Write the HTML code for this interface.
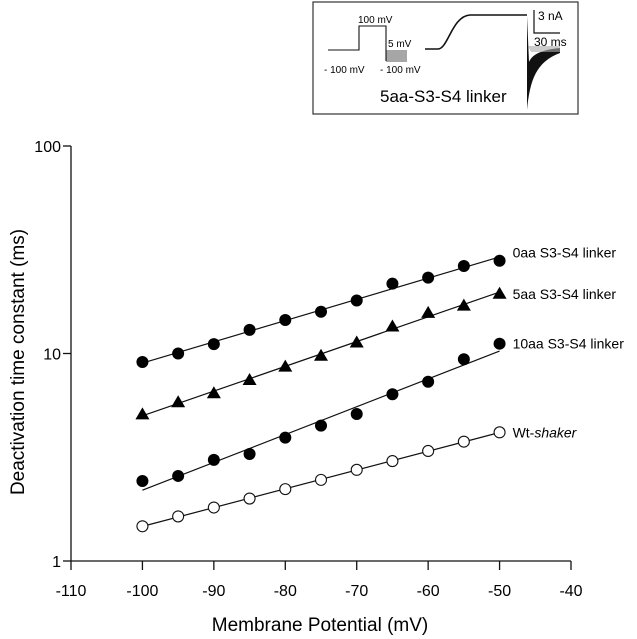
<!DOCTYPE html>
<html><head><meta charset="utf-8"><style>
html,body{margin:0;padding:0;background:#fff;}
svg{display:block;font-family:"Liberation Sans",Arial,sans-serif;}
</style></head><body>
<svg id="chart" width="637" height="639" viewBox="0 0 637 639">
  <g>
    <rect x="313" y="2" width="265" height="112" fill="#fff" stroke="#333" stroke-width="1.2"/>
    <g fill="none" stroke="#111" stroke-width="1.1">
      <polyline points="328,50 359,50 359,26 386,26 386,61"/>
      <g stroke-width="0.7">
      <line x1="386" y1="51" x2="407" y2="51"/><line x1="386" y1="53" x2="407" y2="53"/>
      <line x1="386" y1="55" x2="407" y2="55"/><line x1="386" y1="57" x2="407" y2="57"/>
      <line x1="386" y1="59" x2="407" y2="59"/><line x1="386" y1="61" x2="407" y2="61"/>
      </g>
    </g>
    <text x="358" y="23" font-size="10">100 mV</text>
    <text x="388" y="47" font-size="10">5 mV</text>
    <text x="324" y="73" font-size="10">- 100 mV</text>
    <text x="380" y="73" font-size="10">- 100 mV</text>
    <path d="M425,49 L438,49 C448,49 452,16 470,15 L527,15" fill="none" stroke="#111" stroke-width="1.6"/>
    <path d="M527,16 L527,110 C530,80 536,62 560,53 L560,48 C540,50 532,55 529,62 Z" fill="#111"/>
    <path d="M528,46 L560,46 L560,52 L531,52 Z" fill="#aaa" opacity="0.6"/>
    <polyline points="534,10 534,33 560,33" fill="none" stroke="#111" stroke-width="1.2"/>
    <text x="538" y="20" font-size="12">3 nA</text>
    <text x="534" y="46" font-size="12">30 ms</text>
    <text x="380" y="102" font-size="17">5aa-S3-S4 linker</text>
  </g>
  <g id="axes"></g>
  <g id="plot"></g>
  <text x="320" y="631" font-size="19" text-anchor="middle">Membrane Potential (mV)</text>
  <text transform="translate(24,362) rotate(-90)" font-size="19" text-anchor="middle">Deactivation time constant (ms)</text>
</svg>
<script>
const voltages = [-100,-95,-90,-85,-80,-75,-70,-65,-60,-55,-50];
const tau0aa = [9.1,10.0,11.1,13.0,14.5,15.9,18.0,21.7,23.2,26.4,28.0];
const tau5aa = [5.09,5.82,6.43,7.45,8.64,9.76,11.3,13.5,15.7,17.0,19.4];
const tau10aa = [2.43,2.57,3.07,3.28,3.93,4.49,5.11,6.36,7.31,9.38,11.15];
const tauWt = [1.47,1.64,1.81,2.0,2.22,2.46,2.75,3.03,3.39,3.76,4.17];
const xTicks = [-110,-100,-90,-80,-70,-60,-50,-40];
const yTicks = [1,10,100];
const seriesLabels = ["0aa S3-S4 linker","5aa S3-S4 linker","10aa S3-S4 linker","Wt-shaker"];

const NS="http://www.w3.org/2000/svg";
const X0=71, X1=571, XMIN=-110, XMAX=-40, YB=561, DEC=207.5;
function xs(v){return X0+(v-XMIN)*(X1-X0)/(XMAX-XMIN);}
function ys(v){return YB-DEC*Math.log10(v);}
function mk(tag,attrs,parent){const e=document.createElementNS(NS,tag);for(const k in attrs)e.setAttribute(k,attrs[k]);parent.appendChild(e);return e;}

const axes=document.getElementById('axes');
let e=mk('line',{x1:X0,y1:ys(100),x2:X0,y2:YB,stroke:'#111','stroke-width':1.3},axes);


e=mk('line',{x1:X0,y1:YB,x2:X1,y2:YB,stroke:'#111','stroke-width':1.3},axes);


xTicks.forEach(t=>{
  const l=mk('line',{x1:xs(t),y1:YB,x2:xs(t),y2:YB+9,stroke:'#111','stroke-width':1.3},axes);
  
  
  const tx=mk('text',{x:xs(t),y:YB+35,'font-size':16,'text-anchor':'middle'},axes);
  tx.textContent=t;
  
  
});
yTicks.forEach(t=>{
  const l=mk('line',{x1:X0-8,y1:ys(t),x2:X0,y2:ys(t),stroke:'#111','stroke-width':1.3},axes);
  
  
  const tx=mk('text',{x:X0-10,y:ys(t)+6,'font-size':16,'text-anchor':'end'},axes);
  tx.textContent=t;
  
  
});

const plot=document.getElementById('plot');
const all=[tau0aa,tau5aa,tau10aa,tauWt];
const markers=['filled-circle','triangle','filled-circle','open-circle'];
const names=['0aa','5aa','10aa','wt'];
all.forEach((vals,si)=>{
  const g=mk('g',{},plot);
  
  
  const n=voltages.length;let sx=0,sy=0,sxx=0,sxy=0;
  voltages.forEach((v,i)=>{const y=Math.log10(vals[i]);sx+=v;sy+=y;sxx+=v*v;sxy+=v*y;});
  const b=(n*sxy-sx*sy)/(n*sxx-sx*sx), a=(sy-b*sx)/n;
  const v0=voltages[0], v1=voltages[n-1];
  const fl=mk('line',{x1:xs(v0),y1:ys(Math.pow(10,a+b*v0)),x2:xs(v1),y2:ys(Math.pow(10,a+b*v1)),stroke:'#111','stroke-width':1.2},g);
  
  
  voltages.forEach((v,i)=>{
    const cx=xs(v), cy=ys(vals[i]);
    let m;
    if(markers[si]==='triangle'){
      m=mk('polygon',{points:`${cx},${cy-7} ${cx-7},${cy+5} ${cx+7},${cy+5}`,fill:'#000'},g);
    } else if(markers[si]==='open-circle'){
      m=mk('circle',{cx:cx,cy:cy,r:5.5,fill:'#fff',stroke:'#111','stroke-width':1.1},g);
    } else {
      m=mk('circle',{cx:cx,cy:cy,r:6,fill:'#000'},g);
    }
    
    
  });
  const last=vals[n-1];
  const tx=mk('text',{x:xs(v1)+13,y:ys(last)+(si===0?-3:5),'font-size':14},g);
  if(si===3){
    tx.textContent='Wt-';
    const ts=mk('tspan',{'font-style':'italic'},tx);ts.textContent='shaker';
  } else tx.textContent=seriesLabels[si];
  
  
});
</script>
</body></html>
